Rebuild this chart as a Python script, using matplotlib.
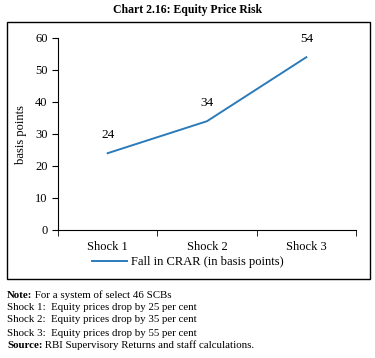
import matplotlib
matplotlib.use("Agg")
import matplotlib.pyplot as plt
from matplotlib.patches import Rectangle

categories = ["Shock 1", "Shock 2", "Shock 3"]
values = [24, 34, 54]
yticks = [0, 10, 20, 30, 40, 50, 60]
notes = [
    ("Note:", " For a system of select 46 SCBs"),
    ("", "Shock 1:  Equity prices drop by 25 per cent"),
    ("", "Shock 2:  Equity prices drop by 35 per cent"),
    ("", "Shock 3:  Equity prices drop by 55 per cent"),
    ("Source:", " RBI Supervisory Returns and staff calculations."),
]

plt.rcParams["font.family"] = ["Liberation Serif", "DejaVu Serif"]

W, H = 375, 358
fig = plt.figure(figsize=(W / 100, H / 100), dpi=100)
ax = fig.add_axes([58 / W, 1 - 230 / H, (356 - 58) / W, (230 - 38) / H])

color = "#2b7bba"
x = list(range(len(categories)))
ax.plot(x, values, color=color, lw=1.4, label="Fall in CRAR (in basis points)")
for xi, v in zip(x, values):
    ax.annotate(str(v), (xi, v), xytext=(0, 9), textcoords="offset points",
                ha="center", va="bottom", fontsize=9.5)

ax.set_xlim(-0.5, len(categories) - 0.5)
ax.set_ylim(0, 60)
ax.set_yticks(yticks)
ax.set_xticks(x)
ax.set_xticklabels(categories)
ax.set_xticks([-0.5, 0.5, 1.5, 2.5], minor=True)
ax.tick_params(axis="x", which="major", length=0, pad=8, labelsize=9)
ax.tick_params(axis="x", which="minor", length=4, direction="out")
ax.tick_params(axis="y", length=4, direction="out", labelsize=9)
ax.set_ylabel("basis points", fontsize=9, labelpad=6)
for s in ("top", "right"):
    ax.spines[s].set_visible(False)

fig.legend(loc="center", bbox_to_anchor=(0.5, 1 - 262 / H), frameon=False,
           fontsize=9, handlelength=2.8, handletextpad=0.3)

fig.patches.append(Rectangle((7 / W, 1 - 279 / H), (370 - 7) / W, (279 - 22) / H,
                             transform=fig.transFigure, fill=False, lw=1.0,
                             edgecolor="black"))
fig.text(0.5, 1 - 10 / H, "Chart 2.16: Equity Price Risk", ha="center", va="center",
         fontsize=8.5, fontweight="bold")

ys = [295, 307, 320, 333, 345]
for (bold, rest), yy in zip(notes, ys):
    t = fig.text(7 / W, 1 - yy / H, bold, ha="left", va="center", fontsize=7.8,
                 fontweight="bold")
    if bold:
        fig.canvas.draw()
        bb = t.get_window_extent()
        x0 = bb.x1 / W
    else:
        x0 = 7 / W
    fig.text(x0, 1 - yy / H, rest, ha="left", va="center", fontsize=7.8)

fig.savefig("out.png", dpi=100)
